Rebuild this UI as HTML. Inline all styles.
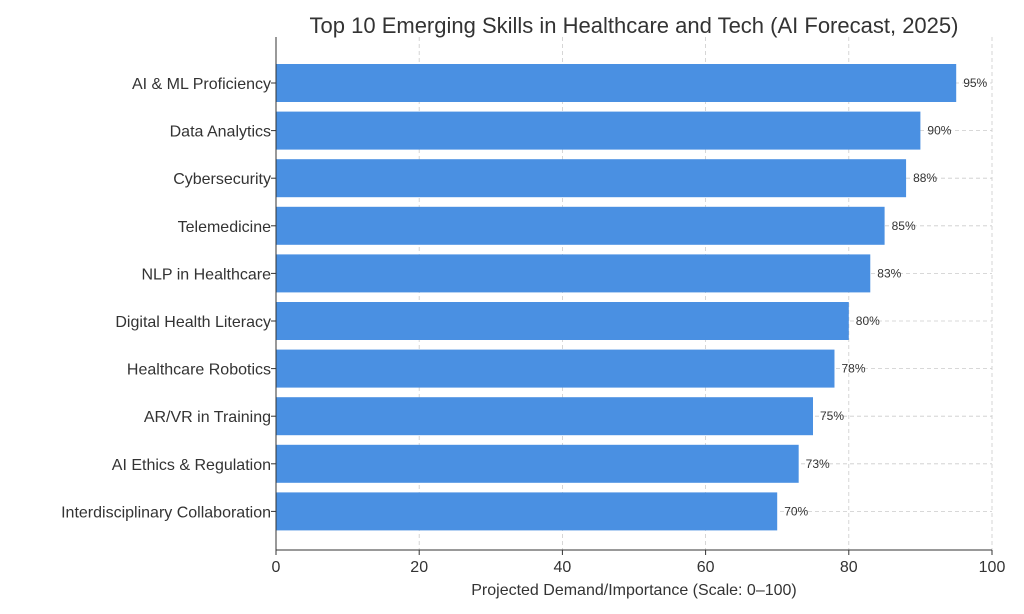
<!DOCTYPE html>
<html><head><meta charset="utf-8"><style>
html,body{margin:0;padding:0;background:#fff;}
svg{display:block;font-family:"Liberation Sans","DejaVu Sans",sans-serif;}
</style></head><body>
<svg id="chart" width="1024" height="614" viewBox="0 0 1024 614">
<text x="634" y="33" text-anchor="middle" font-size="22" fill="#333">Top 10 Emerging Skills in Healthcare and Tech (AI Forecast, 2025)</text>
<g id="grid"></g><g id="bars"></g><g id="axes"></g>
<text x="634" y="595" text-anchor="middle" font-size="16" fill="#333">Projected Demand/Importance (Scale: 0–100)</text>
</svg>
<script>
const categories=["AI & ML Proficiency","Data Analytics","Cybersecurity","Telemedicine","NLP in Healthcare","Digital Health Literacy","Healthcare Robotics","AR/VR in Training","AI Ethics & Regulation","Interdisciplinary Collaboration"];
const values=[95,90,88,85,83,80,78,75,73,70];
const xTicks=[0,20,40,60,80,100];
const NS="http://www.w3.org/2000/svg";
const L=276,R=992,T=37,B=550,first=83,step=47.6,bh=38;
const x=v=>L+(R-L)*v/100;
const y=i=>first+i*step;
function mk(tag,attrs,parent,txt){const e=document.createElementNS(NS,tag);for(const k in attrs)e.setAttribute(k,attrs[k]);if(txt!=null)e.textContent=txt;document.getElementById(parent).appendChild(e);return e;}
xTicks.forEach(t=>{
 const g=mk('line',{x1:x(t),x2:x(t),y1:T,y2:B,stroke:'#ccc','stroke-dasharray':'4,3','stroke-width':0.8},'grid');
 
 
 const tk=mk('line',{x1:x(t),x2:x(t),y1:B,y2:B+5,stroke:'#333'},'axes');
 
 
 const lb=mk('text',{x:x(t),y:B+22,'text-anchor':'middle','font-size':16,fill:'#333'},'axes',t);
 
 
});
categories.forEach((c,i)=>{
 const g=mk('line',{x1:L,x2:R,y1:y(i),y2:y(i),stroke:'#ccc','stroke-dasharray':'4,3','stroke-width':0.8},'grid');
 
 
 const b=mk('rect',{x:L,y:y(i)-bh/2,width:x(values[i])-L,height:bh,fill:'#4a90e2'},'bars');
 
 
 const v=mk('text',{x:x(values[i])+7,y:y(i)+4,'font-size':12,fill:'#333'},'bars',values[i]+'%');
 
 
 const tk=mk('line',{x1:L-5,x2:L,y1:y(i),y2:y(i),stroke:'#333'},'axes');
 
 
 const lb=mk('text',{x:L-5,y:y(i)+6,'text-anchor':'end','font-size':16,fill:'#333'},'axes',c);
 
 
});
const ya=mk('line',{x1:L,x2:L,y1:T,y2:B,stroke:'#333','stroke-width':1},'axes');


const xa=mk('line',{x1:L,x2:R,y1:B,y2:B,stroke:'#333','stroke-width':1},'axes');


</script>
</body></html>
